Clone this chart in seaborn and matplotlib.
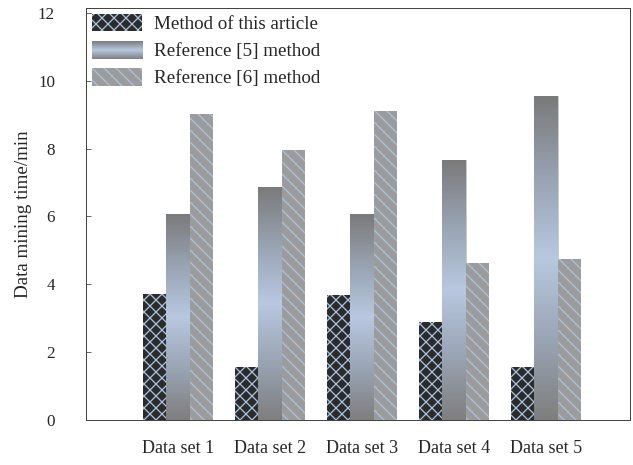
import numpy as np
import pandas as pd
import matplotlib
matplotlib.use("Agg")
import matplotlib.pyplot as plt
import seaborn as sns
from matplotlib.patches import Patch
from matplotlib.colors import LinearSegmentedColormap
from matplotlib.legend_handler import HandlerBase
from matplotlib.image import BboxImage
from matplotlib.transforms import Bbox, TransformedBbox

# ---- data ----
datasets = ["Data set 1", "Data set 2", "Data set 3", "Data set 4", "Data set 5"]
methods = ["Method of this article", "Reference [5] method", "Reference [6] method"]
this_article = [3.7, 1.55, 3.68, 2.9, 1.55]
ref5 = [6.08, 6.88, 6.07, 7.67, 9.54]
ref6 = [9.03, 7.97, 9.12, 4.64, 4.74]
yticks = [0, 2, 4, 6, 8, 10, 12]
ylabel = "Data mining time/min"

df = pd.DataFrame({
    "dataset": datasets * 3,
    "method": [methods[0]] * 5 + [methods[1]] * 5 + [methods[2]] * 5,
    "time": this_article + ref5 + ref6,
})

sns.set_theme(style="white")
plt.rcParams["font.family"] = ["Liberation Serif", "DejaVu Serif"]
plt.rcParams["hatch.linewidth"] = 1.3

DPI = 72
fig = plt.figure(figsize=(633 / DPI, 465 / DPI), dpi=DPI)
ax = fig.add_axes([0.136, 0.097, 0.859, 0.886])

dark = "#2b2b2b"
grey = "#9c9c9c"
hatch_col = "#a9c0de"

sns.barplot(data=df, x="dataset", y="time", hue="method", hue_order=methods,
            palette=[dark, "#9aa6b6", grey], saturation=1, width=0.76,
            ax=ax, legend=False)

grad = np.linspace(0, 1, 256).reshape(-1, 1)
cmap = LinearSegmentedColormap.from_list(
    "g", ["#7a7a7a", "#98a3b2", "#b8c8e0", "#9aa5b4", "#7e7e7e"])

for bar in ax.containers[0]:
    bar.set_hatch("xx")
    bar.set_edgecolor(hatch_col)
    bar.set_linewidth(0)
for bar in ax.containers[2]:
    bar.set_hatch("\\\\")
    bar.set_edgecolor(hatch_col)
    bar.set_linewidth(0)
for bar in ax.containers[1]:
    x0, y0 = bar.get_x(), bar.get_y()
    w, h = bar.get_width(), bar.get_height()
    im = ax.imshow(grad, extent=[x0, x0 + w, y0, y0 + h], aspect="auto",
                   cmap=cmap, origin="upper", zorder=bar.get_zorder() + 0.1,
                   interpolation="bicubic")
    im.set_clip_path(bar)
    bar.set_edgecolor("#c8c8c8")
    bar.set_linewidth(0.6)

ax.set_xlim(-1.0, 4.913)
ax.set_ylim(0, 12.15)
ax.set_yticks(yticks)
ax.set_yticklabels([str(t) for t in yticks], fontsize=17)
ax.tick_params(axis="y", direction="in", length=5, width=0.8, color="#444444",
               pad=31, left=True)
ax.tick_params(axis="x", direction="in", length=3, width=0.8, color="#444444",
               pad=20, bottom=True, labelsize=18)
ax.set_xlabel("")
ax.set_ylabel(ylabel, fontsize=19, labelpad=6)
for s in ax.spines.values():
    s.set_visible(True)
    s.set_color("#444444")
    s.set_linewidth(1.0)


class GradHandler(HandlerBase):
    def create_artists(self, legend, orig_handle, xdescent, ydescent,
                       width, height, fontsize, trans):
        bb = TransformedBbox(Bbox.from_bounds(-xdescent, -ydescent, width, height), trans)
        img = BboxImage(bb, cmap=cmap, interpolation="bicubic")
        img.set_data(grad)
        return [img]


h1 = Patch(facecolor=dark, edgecolor=hatch_col, hatch="xx", linewidth=0)
h2 = Patch(facecolor="#a0acbc")
h3 = Patch(facecolor=grey, edgecolor=hatch_col, hatch="\\\\", linewidth=0)
ax.legend([h1, h2, h3], methods, loc="upper left", bbox_to_anchor=(0.0, 1.0),
          frameon=False, fontsize=19, handlelength=2.65, handleheight=1.05,
          handletextpad=0.6, labelspacing=0.42, borderaxespad=0.15,
          borderpad=0.15, handler_map={h2: GradHandler()})

fig.savefig("out.png", dpi=DPI)
